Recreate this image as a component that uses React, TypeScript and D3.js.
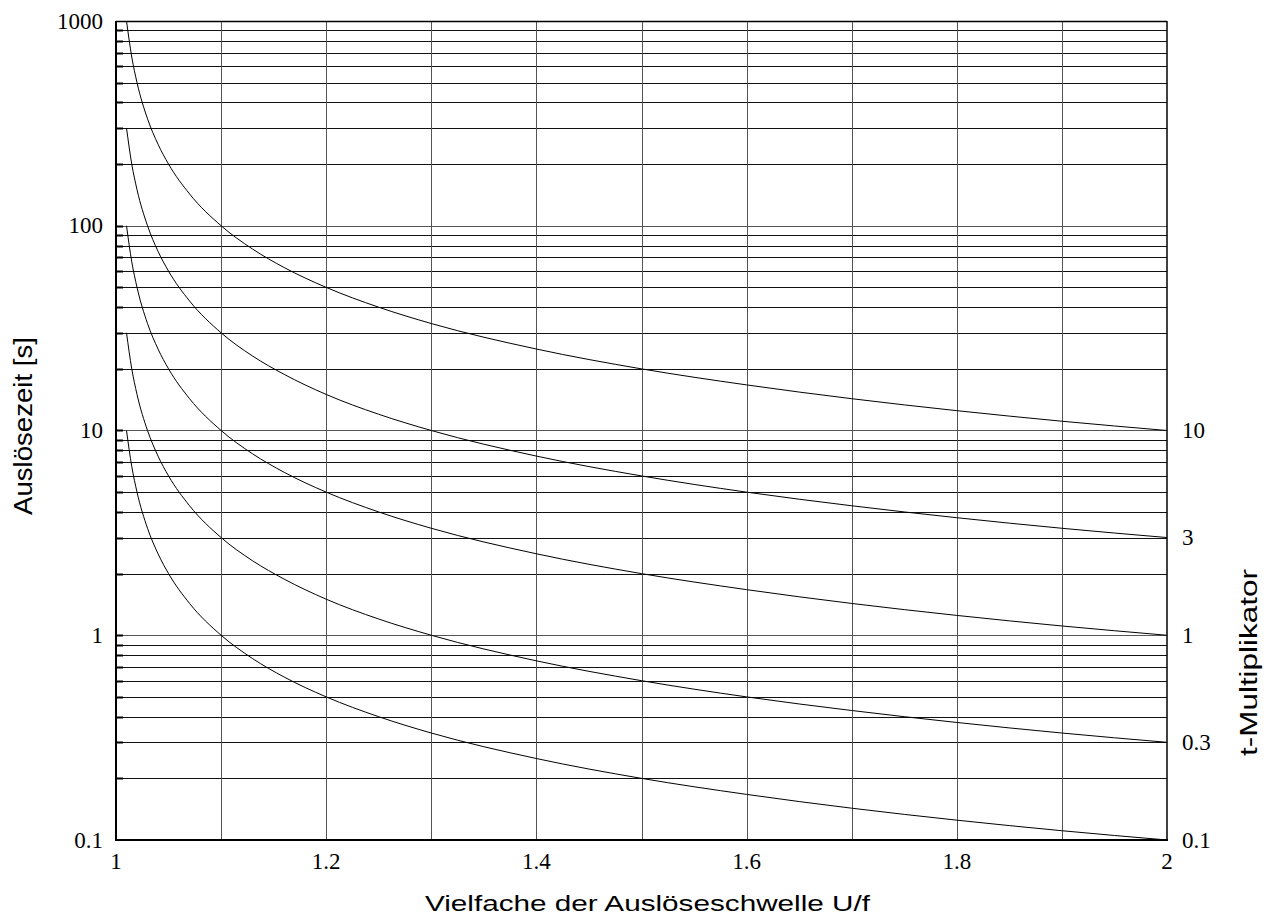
import React from "react";
import * as d3 from "d3";

const W = 1267;
const H = 919;

const xTicks = [1, 1.2, 1.4, 1.6, 1.8, 2];
const xGrid = [1, 1.1, 1.2, 1.3, 1.4, 1.5, 1.6, 1.7, 1.8, 1.9, 2];
const yLabels = [0.1, 1, 10, 100, 1000];
const rightLabels = [10, 3, 1, 0.3, 0.1];

const mValues = [1.01, 1.015, 1.02, 1.03, 1.04, 1.05, 1.07, 1.1, 1.13, 1.16, 1.2, 1.25, 1.3, 1.4, 1.5, 1.6, 1.7, 1.8, 1.9, 2.0];
const tMult10 = [1000, 667, 500, 333, 250, 200, 143, 100, 76.9, 62.5, 50, 40, 33.3, 25, 20, 16.7, 14.3, 12.5, 11.1, 10];
const tMult3 = [300, 200, 150, 100, 75, 60, 42.9, 30, 23.1, 18.8, 15, 12, 10, 7.5, 6, 5, 4.29, 3.75, 3.33, 3];
const tMult1 = [100, 66.7, 50, 33.3, 25, 20, 14.3, 10, 7.69, 6.25, 5, 4, 3.33, 2.5, 2, 1.67, 1.43, 1.25, 1.11, 1];
const tMult03 = [30, 20, 15, 10, 7.5, 6, 4.29, 3, 2.31, 1.88, 1.5, 1.2, 1, 0.75, 0.6, 0.5, 0.429, 0.375, 0.333, 0.3];
const tMult01 = [10, 6.67, 5, 3.33, 2.5, 2, 1.43, 1, 0.769, 0.625, 0.5, 0.4, 0.333, 0.25, 0.2, 0.167, 0.143, 0.125, 0.111, 0.1];
const series = [tMult10, tMult3, tMult1, tMult03, tMult01];

export default function App() {
  const left = 116, right = 1167, top = 21, bottom = 840;
  const x = d3.scaleLinear().domain([1, 2]).range([left, right]);
  const y = d3.scaleLog().domain([0.1, 1000]).range([bottom, top]);

  const minor: number[] = [];
  for (let e = -1; e < 3; e++) {
    for (let k = 2; k <= 9; k++) minor.push(k * Math.pow(10, e));
  }
  const major = [1, 10, 100];

  const line = d3
    .line<[number, number]>()
    .x((d) => x(d[0]))
    .y((d) => y(d[1]))
    .curve(d3.curveMonotoneX);

  const serif = "'Liberation Serif', 'Times New Roman', serif";
  const sans = "'Liberation Sans', Arial, sans-serif";

  return (
    <svg width={W} height={H} style={{ position: "absolute", left: 0, top: 0, background: "#fff" }}>
      {minor.map((v) => (
        <line key={"h" + v} x1={left} x2={right} y1={Math.round(y(v)) + 0.5} y2={Math.round(y(v)) + 0.5} stroke="#111" strokeWidth={1} />
      ))}
      {major.map((v) => (
        <line key={"M" + v} x1={left} x2={right} y1={Math.round(y(v)) + 0.5} y2={Math.round(y(v)) + 0.5} stroke="#555" strokeWidth={1} />
      ))}
      {xGrid.slice(1, -1).map((v) => (
        <line key={"v" + v} x1={Math.round(x(v)) + 0.5} x2={Math.round(x(v)) + 0.5} y1={top} y2={bottom} stroke="#555" strokeWidth={1} />
      ))}
      {/* frame */}
      <line x1={left} x2={right} y1={top + 0.5} y2={top + 0.5} stroke="#000" strokeWidth={1.5} />
      <line x1={left} x2={right + 1} y1={bottom} y2={bottom} stroke="#000" strokeWidth={2} />
      <line x1={left} x2={left} y1={top} y2={bottom + 1} stroke="#000" strokeWidth={2} />
      <line x1={right} x2={right} y1={top} y2={bottom + 1} stroke="#000" strokeWidth={1.5} />
      {/* left minor ticks */}
      {minor.concat(major).map((v) => (
        <line key={"t" + v} x1={left} x2={left + 7} y1={Math.round(y(v)) + 0.5} y2={Math.round(y(v)) + 0.5} stroke="#000" strokeWidth={2} />
      ))}
      {series.map((s, i) => (
        <path
          key={"c" + i}
          d={line(mValues.map((m, j) => [m, s[j]] as [number, number])) || ""}
          fill="none"
          stroke="#000"
          strokeWidth={1}
        />
      ))}
      {yLabels.map((v) => (
        <text key={"yl" + v} x={left - 13} y={y(v)} dy="0.33em" textAnchor="end" fontFamily={serif} fontSize={23} fill="#000">
          {v}
        </text>
      ))}
      {rightLabels.map((v) => (
        <text key={"rl" + v} x={right + 15} y={y(v)} dy="0.33em" textAnchor="start" fontFamily={serif} fontSize={23} fill="#000">
          {v}
        </text>
      ))}
      {xTicks.map((v) => (
        <text key={"xl" + v} x={x(v)} y={869} textAnchor="middle" fontFamily={serif} fontSize={23} fill="#000">
          {v}
        </text>
      ))}
      <text x={425} y={911} textLength={445} lengthAdjust="spacingAndGlyphs" fontFamily={sans} fontSize={22} fill="#000">
        Vielfache der Auslöseschwelle U/f
      </text>
      <text transform={`translate(32, 426) rotate(-90)`} x={-89} textLength={178} lengthAdjust="spacingAndGlyphs" fontFamily={sans} fontSize={26} fill="#000">
        Auslösezeit [s]
      </text>
      <text transform={`translate(1257, 663) rotate(-90)`} x={-93} textLength={187} lengthAdjust="spacingAndGlyphs" fontFamily={sans} fontSize={23} fill="#000">
        t-Multiplikator
      </text>
    </svg>
  );
}
